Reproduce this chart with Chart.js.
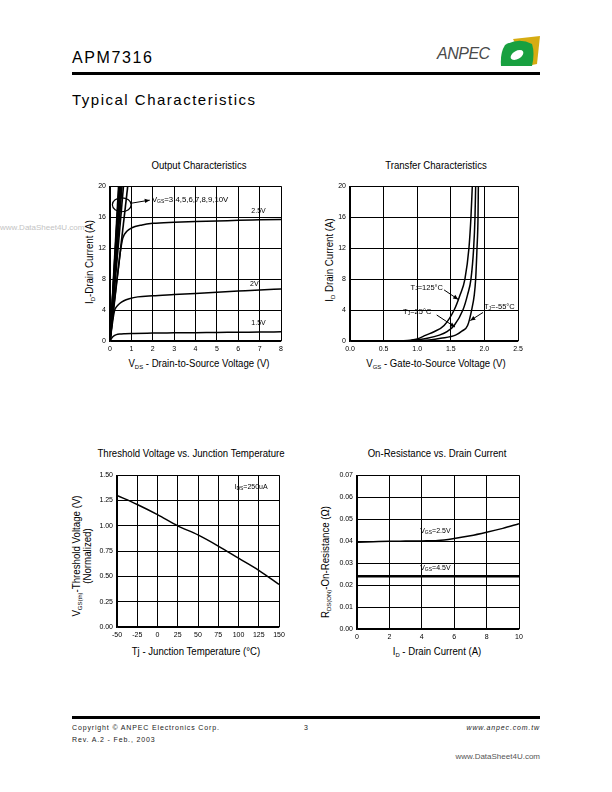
<!DOCTYPE html>
<html><head><meta charset="utf-8">
<script src="https://cdn.jsdelivr.net/npm/chart.js@4.4.1/dist/chart.umd.min.js"></script>
<style>
html,body{margin:0;padding:0;background:#fff}
body{width:612px;height:792px;position:relative;overflow:hidden;font-family:"Liberation Sans",Arial,Helvetica,sans-serif;color:#000}
.a{position:absolute;white-space:nowrap;line-height:1}
.c{transform:translate(-50%,-50%) scaleX(0.96)}
.r{transform:translate(-50%,-50%) rotate(-90deg) scaleX(0.97)}
sub{font-size:62%;vertical-align:-2px;line-height:0}
canvas{position:absolute}
.ttl{font-size:10px}
.axt{font-size:10px}
.ft{font-size:7px;letter-spacing:0.85px;color:#222}
</style></head><body>

<!-- header -->
<div class="a" style="left:72px;top:50px;font-size:16px;letter-spacing:1.6px">APM7316</div>
<div class="a" style="left:437px;top:46px;font-size:16px;font-style:italic;color:#4a4a4a;letter-spacing:-0.5px">ANPEC</div>
<svg class="a" style="left:499px;top:35px" width="42" height="33" viewBox="0 0 42 33">
  <path d="M14 4 L41 1 L38 29 L28 31 Z" fill="#d6ac12"/>
  <path d="M6 10 Q20 2 33 9 Q36 18 33 31 L2 31 Q1 18 6 10 Z" fill="#18a040"/>
  <ellipse cx="18" cy="20" rx="7" ry="4" transform="rotate(-30 18 20)" fill="#fff"/>
</svg>
<div class="a" style="left:72px;top:72px;width:468px;height:3px;background:#000"></div>
<div class="a" style="left:72px;top:92px;font-size:15px;letter-spacing:1.5px">Typical Characteristics</div>

<div class="a" style="left:0px;top:224px;font-size:8px;color:#c4c4c4">www.DataSheet4U.com</div>

<!-- chart titles & axis titles -->
<div class="a c ttl" style="left:199px;top:166px">Output Characteristics</div>
<div class="a c ttl" style="left:436px;top:166px">Transfer Characteristics</div>
<div class="a c ttl" style="left:191px;top:454px">Threshold Voltage vs. Junction Temperature</div>
<div class="a c ttl" style="left:437px;top:454px">On-Resistance vs. Drain Current</div>

<div class="a c axt" style="left:199px;top:364px">V<sub>DS</sub> - Drain-to-Source Voltage (V)</div>
<div class="a c axt" style="left:436px;top:364px">V<sub>GS</sub> - Gate-to-Source Voltage (V)</div>
<div class="a c axt" style="left:196px;top:652px">Tj - Junction Temperature (°C)</div>
<div class="a c axt" style="left:437px;top:652px">I<sub>D</sub> - Drain Current (A)</div>

<div class="a r axt" style="left:90px;top:262px">I<sub>D</sub>-Drain Current (A)</div>
<div class="a r axt" style="left:330px;top:260px">I<sub>D</sub> Drain Current (A)</div>
<div class="a r axt" style="left:82px;top:556px;text-align:center;line-height:11px">V<sub>GS(th)</sub>-Threshold Voltage (V)<br>(Normalized)</div>
<div class="a r axt" style="left:326px;top:562px">R<sub>DS(ON)</sub>-On-Resistance (Ω)</div>

<canvas id="c1"></canvas>
<canvas id="c2"></canvas>
<canvas id="c3"></canvas>
<canvas id="c4"></canvas>

<!-- footer -->
<div class="a" style="left:72px;top:716px;width:468px;height:3px;background:#000"></div>
<div class="a ft" style="left:72px;top:724px">Copyright © ANPEC Electronics Corp.</div>
<div class="a ft" style="left:304px;top:724px">3</div>
<div class="a ft" style="left:430px;top:724px;width:110px;text-align:right;font-style:italic">www.anpec.com.tw</div>
<div class="a ft" style="left:72px;top:736px">Rev. A.2 - Feb., 2003</div>
<div class="a" style="left:440px;top:753px;width:100px;text-align:right;font-size:8px;color:#555">www.DataSheet4U.com</div>

<script>
// ---------- Output Characteristics ----------
const outVds15 = [0, 0.1, 0.2, 0.3, 0.45, 0.7, 1, 2, 3, 4, 5, 6, 7, 8];
const outId15  = [0, 0.45, 0.7, 0.82, 0.9, 0.95, 0.98, 1.02, 1.05, 1.08, 1.1, 1.13, 1.15, 1.18];
const outVds20 = [0, 0.08, 0.15, 0.22, 0.3, 0.45, 0.65, 0.9, 1.3, 2, 3, 4, 5, 6, 7, 8];
const outId20  = [0, 1.6, 3.0, 4.0, 4.4, 4.85, 5.2, 5.45, 5.7, 5.85, 6.0, 6.15, 6.3, 6.45, 6.6, 6.72];
const outVds25 = [0, 0.1, 0.2, 0.3, 0.4, 0.5, 0.6, 0.8, 1, 1.5, 2, 3, 4, 5, 6, 7, 8];
const outId25  = [0, 2.5, 5.0, 7.4, 9.6, 11.8, 13.3, 14.2, 14.6, 15.0, 15.2, 15.35, 15.45, 15.5, 15.6, 15.65, 15.7];
const outHighVgs = ['3', '4', '5', '6', '7', '8', '9', '10'];
const outHighVdsAt20A = [0.83, 0.63, 0.56, 0.51, 0.47, 0.44, 0.42, 0.40];
const outVdsTicks = [0, 1, 2, 3, 4, 5, 6, 7, 8];
const outIdTicks = [0, 4, 8, 12, 16, 20];

// ---------- Transfer Characteristics ----------
const trVgs125 = [0.75, 0.9, 1.0, 1.13, 1.25, 1.4, 1.55, 1.64, 1.71, 1.77, 1.8, 1.82];
const trId125  = [0, 0.1, 0.25, 0.76, 1.2, 2.0, 4.0, 6.0, 8.0, 12.0, 16.0, 20.0];
const trVgs25  = [0.85, 0.98, 1.15, 1.33, 1.45, 1.55, 1.68, 1.75, 1.8, 1.84, 1.86, 1.87];
const trId25   = [0, 0.13, 0.35, 0.76, 1.25, 2.0, 4.0, 6.0, 8.0, 12.0, 16.0, 20.0];
const trVgsM55 = [1.0, 1.18, 1.35, 1.57, 1.67, 1.75, 1.81, 1.85, 1.87, 1.89, 1.905, 1.91];
const trIdM55  = [0, 0.13, 0.35, 0.76, 1.3, 2.0, 4.0, 6.0, 8.0, 12.0, 16.0, 20.0];
const trVgsTicks = [0.0, 0.5, 1.0, 1.5, 2.0, 2.5];
const trIdTicks = [0, 4, 8, 12, 16, 20];

// ---------- Threshold Voltage vs Tj ----------
const thTj   = [-50, -25, 0, 25, 50, 75, 100, 125, 150];
const thVgs  = [1.30, 1.21, 1.11, 1.00, 0.91, 0.80, 0.68, 0.56, 0.42];
const thTjTicks = [-50, -25, 0, 25, 50, 75, 100, 125, 150];
const thVTicks = [0.00, 0.25, 0.50, 0.75, 1.00, 1.25, 1.50];

// ---------- On-Resistance vs Drain Current ----------
const ronId   = [0, 1, 2, 3, 4, 5, 6, 7, 8, 9, 10];
const ronV25  = [0.0395, 0.0397, 0.0399, 0.0400, 0.0401, 0.0403, 0.0412, 0.0424, 0.0440, 0.0458, 0.0479];
const ronV45  = [0.024, 0.024, 0.024, 0.024, 0.024, 0.024, 0.024, 0.024, 0.024, 0.024, 0.024];
const ronIdTicks = [0, 2, 4, 6, 8, 10];
const ronRTicks = [0.00, 0.01, 0.02, 0.03, 0.04, 0.05, 0.06, 0.07];

const FONT = '"Liberation Sans", Arial, sans-serif';
const pts = (xs, ys) => xs.map((v, i) => ({x: v, y: ys[i]}));

function drawRich(ctx, parts, x, y, align, size) {
  const sub = Math.round(size * 0.7);
  let w = 0;
  parts.forEach(p => { ctx.font = (p[1] ? sub : size) + 'px ' + FONT; w += ctx.measureText(p[0]).width; });
  let cx = align === 'right' ? x - w : align === 'center' ? x - w / 2 : x;
  ctx.textBaseline = 'middle';
  ctx.fillStyle = '#000';
  parts.forEach(p => {
    ctx.font = (p[1] ? sub : size) + 'px ' + FONT;
    ctx.fillText(p[0], cx, p[1] ? y + 1.5 : y);
    cx += ctx.measureText(p[0]).width;
  });
}

const notesPlugin = {
  id: 'notes',
  afterDatasetsDraw(chart, args, opts) {
    const items = opts.items || [];
    const ctx = chart.ctx, xs = chart.scales.x, ys = chart.scales.y;
    ctx.save();
    ctx.strokeStyle = '#000'; ctx.fillStyle = '#000';
    items.forEach(it => {
      if (it.type === 'text') {
        drawRich(ctx, it.parts, xs.getPixelForValue(it.x), ys.getPixelForValue(it.y), it.align || 'left', it.size || 7);
      } else if (it.type === 'arrow') {
        const x1 = xs.getPixelForValue(it.x1), y1 = ys.getPixelForValue(it.y1);
        const x2 = xs.getPixelForValue(it.x2), y2 = ys.getPixelForValue(it.y2);
        ctx.lineWidth = 1;
        ctx.beginPath(); ctx.moveTo(x1, y1); ctx.lineTo(x2, y2); ctx.stroke();
        const a = Math.atan2(y2 - y1, x2 - x1), L = 5, W = 2.2;
        ctx.beginPath();
        ctx.moveTo(x2, y2);
        ctx.lineTo(x2 - L * Math.cos(a) + W * Math.sin(a), y2 - L * Math.sin(a) - W * Math.cos(a));
        ctx.lineTo(x2 - L * Math.cos(a) - W * Math.sin(a), y2 - L * Math.sin(a) + W * Math.cos(a));
        ctx.closePath(); ctx.fill();
      } else if (it.type === 'ellipse') {
        const cx = xs.getPixelForValue(it.x), cy = ys.getPixelForValue(it.y);
        const rx = Math.abs(xs.getPixelForValue(it.x + it.rx) - cx);
        const ry = Math.abs(ys.getPixelForValue(it.y + it.ry) - cy);
        ctx.lineWidth = 1.2;
        ctx.beginPath(); ctx.ellipse(cx, cy, rx, ry, 0, 0, Math.PI * 2); ctx.stroke();
      }
    });
    ctx.restore();
  }
};

function makeChart(id, plot, xCfg, yCfg, datasets, items) {
  const padL = 40, padT = 4, padR = 10, padB = 18;
  const cv = document.getElementById(id);
  const w = plot.R - plot.L + padL + padR, h = plot.B - plot.T + padT + padB;
  cv.width = w; cv.height = h;
  cv.style.left = (plot.L - padL) + 'px'; cv.style.top = (plot.T - padT) + 'px';
  cv.style.width = w + 'px'; cv.style.height = h + 'px';
  const axis = (cfg, isX) => ({
    type: 'linear', min: cfg.ticks[0], max: cfg.ticks[cfg.ticks.length - 1],
    afterBuildTicks: s => { s.ticks = cfg.ticks.map(v => ({value: v})); },
    afterFit: s => { if (isX) s.height = padB; else s.width = padL; },
    grid: {color: '#000', lineWidth: 1, drawTicks: false},
    border: {display: true, color: '#000', width: 1.2},
    ticks: {color: '#000', font: {family: FONT, size: 7}, padding: 4,
      maxRotation: 0, autoSkip: false, callback: v => cfg.fmt(v)}
  });
  return new Chart(cv, {
    type: 'scatter',
    data: {datasets},
    options: {
      responsive: false, animation: false, devicePixelRatio: 1,
      layout: {autoPadding: false, padding: {left: 0, top: padT, right: padR, bottom: 0}},
      plugins: {legend: {display: false}, tooltip: {enabled: false}, notes: {items}},
      scales: {x: axis(xCfg, true), y: axis(yCfg, false)},
      elements: {point: {radius: 0}}
    },
    plugins: [notesPlugin]
  });
}

const line = (data, w, mono) => ({data, showLine: true, borderColor: '#000', borderWidth: w,
  pointRadius: 0, cubicInterpolationMode: mono ? 'monotone' : 'default', tension: 0});

// Chart 1
const c1sets = [
  line(pts(outVds15, outId15), 1.5, true),
  line(pts(outVds20, outId20), 1.5, true),
  line(pts(outVds25, outId25), 1.5, true)
];
outHighVgs.forEach((g, i) => c1sets.push(line(pts([0, outHighVdsAt20A[i]], [0, 20]), 1.6, false)));
makeChart('c1', {L: 110, T: 182, R: 281, B: 341},
  {ticks: outVdsTicks, fmt: v => String(v)},
  {ticks: outIdTicks, fmt: v => String(v)},
  c1sets,
  [
    {type: 'ellipse', x: 0.55, y: 17.6, rx: 0.44, ry: 0.9},
    {type: 'arrow', x1: 0.99, y1: 17.8, x2: 1.86, y2: 18.2},
    {type: 'text', x: 1.96, y: 18.2, size: 7.8, parts: [['V'], ['GS', 1], ['=3,4,5,6,7,8,9,10V']]},
    {type: 'text', x: 6.95, y: 16.8, align: 'center', parts: [['2.5V']]},
    {type: 'text', x: 6.75, y: 7.3, align: 'center', parts: [['2V']]},
    {type: 'text', x: 6.95, y: 2.3, align: 'center', parts: [['1.5V']]}
  ]);

// Chart 2
makeChart('c2', {L: 350, T: 182, R: 518, B: 341},
  {ticks: trVgsTicks, fmt: v => v.toFixed(1)},
  {ticks: trIdTicks, fmt: v => String(v)},
  [
    line(pts(trVgs125, trId125), 1.5, true),
    line(pts(trVgs25, trId25), 1.5, true),
    line(pts(trVgsM55, trIdM55), 1.5, true)
  ],
  [
    {type: 'text', x: 1.384, y: 6.92, align: 'right', size: 7.5, parts: [['T'], ['J', 1], ['=125°C']]},
    {type: 'arrow', x1: 1.40, y1: 6.6, x2: 1.61, y2: 5.37},
    {type: 'text', x: 1.21, y: 3.77, align: 'right', size: 7.5, parts: [['T'], ['J', 1], ['=25°C']]},
    {type: 'arrow', x1: 1.29, y1: 3.36, x2: 1.5625, y2: 1.8},
    {type: 'text', x: 1.994, y: 4.44, align: 'left', size: 7.5, parts: [['T'], ['J', 1], ['=-55°C']]},
    {type: 'arrow', x1: 1.98, y1: 3.69, x2: 1.79, y2: 2.64}
  ]);

// Chart 3
makeChart('c3', {L: 117, T: 471, R: 279, B: 627},
  {ticks: thTjTicks, fmt: v => String(v)},
  {ticks: thVTicks, fmt: v => v.toFixed(2)},
  [line(pts(thTj, thVgs), 1.5, true)],
  [
    {type: 'text', x: 136, y: 1.387, align: 'right', parts: [['I'], ['DS', 1], ['=250uA']]}
  ]);

// Chart 4
makeChart('c4', {L: 357, T: 471, R: 519, B: 629},
  {ticks: ronIdTicks, fmt: v => String(v)},
  {ticks: ronRTicks, fmt: v => v.toFixed(2)},
  [
    line(pts(ronId, ronV25), 1.5, true),
    line(pts(ronId, ronV45), 2.6, false)
  ],
  [
    {type: 'text', x: 3.9, y: 0.0446, align: 'left', parts: [['V'], ['GS', 1], ['=2.5V']]},
    {type: 'text', x: 3.9, y: 0.0276, align: 'left', parts: [['V'], ['GS', 1], ['=4.5V']]}
  ]);
</script>
</body></html>
